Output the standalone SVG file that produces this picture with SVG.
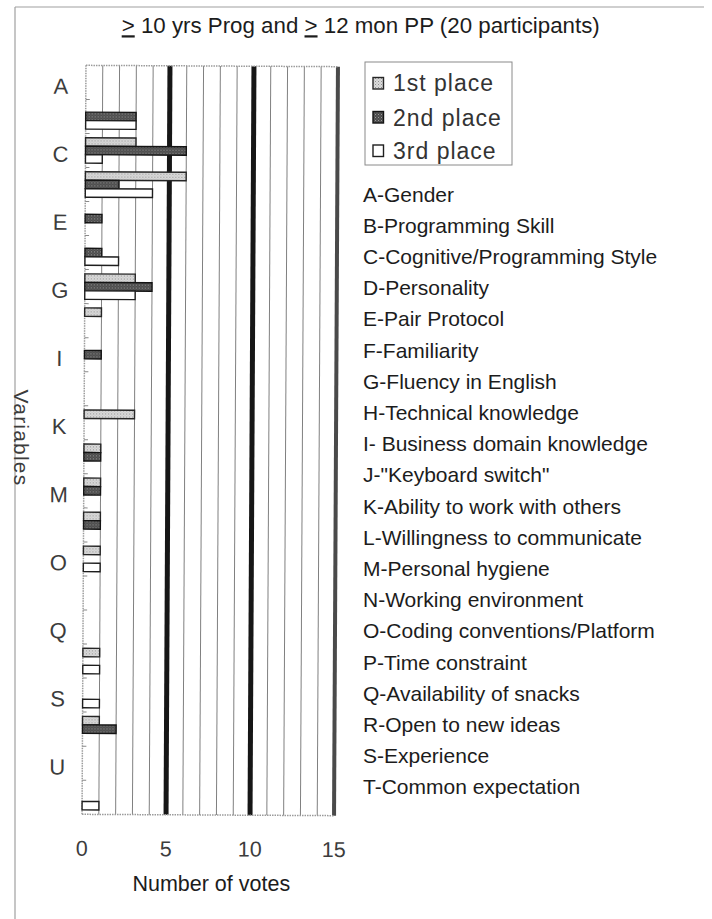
<svg xmlns="http://www.w3.org/2000/svg" width="712" height="919" viewBox="0 0 712 919">
  <style>
    text { font-family: "Liberation Sans", Arial, sans-serif; fill: #1c1c1c; }
    .title { font-size: 22.3px; }
    .axis { font-size: 21.5px; text-anchor: middle; fill: #3c3c3c; }
    .cat { font-size: 22px; text-anchor: middle; fill: #3c3c3c; }
    .var { font-size: 21px; }
    .leg { font-size: 23px; letter-spacing: 1px; fill: #333333; }
    .grid { stroke: #808080; stroke-width: 1; }
    .major { stroke: #161616; stroke-width: 5; }
    .edge { stroke: #4a4a4a; stroke-width: 4; }
    .frame { stroke: #9a9a9a; stroke-width: 1.5; stroke-dasharray: 1.5 1; fill: none; }
    .tick { stroke: #8a8a8a; stroke-width: 1; }
    .p1 { fill: url(#stipLight); stroke: #262626; stroke-width: 1.4; }
    .p2 { fill: url(#stipDark); stroke: #141414; stroke-width: 1.4; }
    .p3 { fill: #ffffff; stroke: #1e1e1e; stroke-width: 1.4; }
  </style>
  <defs>
    <pattern id="stipLight" width="3" height="3" patternUnits="userSpaceOnUse">
      <rect width="3" height="3" fill="#dcdcdc"/>
      <rect x="0" y="0" width="1" height="1" fill="#8e8e8e"/>
      <rect x="1.5" y="1.5" width="1" height="1" fill="#a8a8a8"/>
    </pattern>
    <pattern id="stipDark" width="3" height="3" patternUnits="userSpaceOnUse">
      <rect width="3" height="3" fill="#4a4a4a"/>
      <rect x="0" y="0" width="1" height="1" fill="#9a9a9a"/>
      <rect x="1.5" y="1.5" width="1" height="1" fill="#7a7a7a"/>
    </pattern>
  </defs>

  <rect width="712" height="919" fill="#ffffff"/>

  <!-- outer frame -->
  <g id="frame" stroke="#a0a0a0" stroke-width="1.2">
    <line x1="15" y1="7" x2="704" y2="7"/>
    <line x1="15" y1="7" x2="15" y2="919"/>
  </g>

  <!-- title -->
  <g id="title">
    <text class="title" x="121.7" y="33.3"><tspan text-decoration="underline">&gt;</tspan> 10 yrs Prog and <tspan text-decoration="underline">&gt;</tspan> 12 mon PP (20 participants)</text>
  </g>

  <!-- chart: plot area, bars and axis labels -->
  <g id="chart" transform="rotate(0.3 210 440)">
    <g id="gridlines">
      <line class="grid" x1="100.8" y1="66" x2="100.8" y2="815"/>
      <line class="grid" x1="117.6" y1="66" x2="117.6" y2="815"/>
      <line class="grid" x1="134.4" y1="66" x2="134.4" y2="815"/>
      <line class="grid" x1="151.2" y1="66" x2="151.2" y2="815"/>
      <line class="grid" x1="184.8" y1="66" x2="184.8" y2="815"/>
      <line class="grid" x1="201.6" y1="66" x2="201.6" y2="815"/>
      <line class="grid" x1="218.4" y1="66" x2="218.4" y2="815"/>
      <line class="grid" x1="235.2" y1="66" x2="235.2" y2="815"/>
      <line class="grid" x1="268.8" y1="66" x2="268.8" y2="815"/>
      <line class="grid" x1="285.6" y1="66" x2="285.6" y2="815"/>
      <line class="grid" x1="302.4" y1="66" x2="302.4" y2="815"/>
      <line class="grid" x1="319.2" y1="66" x2="319.2" y2="815"/>
      <line class="major" x1="168" y1="66" x2="168" y2="815"/>
      <line class="major" x1="252" y1="66" x2="252" y2="815"/>
      <line class="edge" x1="336" y1="66" x2="336" y2="815"/>
    </g>

    <!-- plot border: top, left axis, bottom axis -->
    <g id="axes">
      <line class="frame" x1="84" y1="66" x2="336" y2="66"/>
      <line class="frame" x1="84" y1="66" x2="84" y2="815"/>
      <line class="frame" x1="84" y1="815" x2="336" y2="815"/>
      <g class="tick">
        <line x1="84" y1="100.04" x2="88" y2="100.04"/>
        <line x1="84" y1="134.08" x2="88" y2="134.08"/>
        <line x1="84" y1="168.12" x2="88" y2="168.12"/>
        <line x1="84" y1="202.16" x2="88" y2="202.16"/>
        <line x1="84" y1="236.2" x2="88" y2="236.2"/>
        <line x1="84" y1="270.24" x2="88" y2="270.24"/>
        <line x1="84" y1="304.28" x2="88" y2="304.28"/>
        <line x1="84" y1="338.32" x2="88" y2="338.32"/>
        <line x1="84" y1="372.36" x2="88" y2="372.36"/>
        <line x1="84" y1="406.4" x2="88" y2="406.4"/>
        <line x1="84" y1="440.44" x2="88" y2="440.44"/>
        <line x1="84" y1="474.48" x2="88" y2="474.48"/>
        <line x1="84" y1="508.52" x2="88" y2="508.52"/>
        <line x1="84" y1="542.56" x2="88" y2="542.56"/>
        <line x1="84" y1="576.6" x2="88" y2="576.6"/>
        <line x1="84" y1="610.64" x2="88" y2="610.64"/>
        <line x1="84" y1="644.68" x2="88" y2="644.68"/>
        <line x1="84" y1="678.72" x2="88" y2="678.72"/>
        <line x1="84" y1="712.76" x2="88" y2="712.76"/>
        <line x1="84" y1="746.8" x2="88" y2="746.8"/>
        <line x1="84" y1="780.84" x2="88" y2="780.84"/>
      </g>
    </g>

    <!-- vote bars: 16.8 px per vote, 8.5 px per series -->
    <g id="bars">
      <g id="bar-B"><rect class="p2" x="84" y="112.79" width="50.4" height="8.5"/><rect class="p3" x="84" y="121.29" width="50.4" height="8.5"/></g>
      <g id="bar-C"><rect class="p1" x="84" y="138.33" width="50.4" height="8.5"/><rect class="p2" x="84" y="146.83" width="100.8" height="8.5"/><rect class="p3" x="84" y="155.33" width="16.8" height="8.5"/></g>
      <g id="bar-D"><rect class="p1" x="84" y="172.37" width="100.8" height="8.5"/><rect class="p2" x="84" y="180.87" width="33.6" height="8.5"/><rect class="p3" x="84" y="189.37" width="67.2" height="8.5"/></g>
      <g id="bar-E"><rect class="p2" x="84" y="214.91" width="16.8" height="8.5"/></g>
      <g id="bar-F"><rect class="p2" x="84" y="248.95" width="16.8" height="8.5"/><rect class="p3" x="84" y="257.45" width="33.6" height="8.5"/></g>
      <g id="bar-G"><rect class="p1" x="84" y="274.49" width="50.4" height="8.5"/><rect class="p2" x="84" y="282.99" width="67.2" height="8.5"/><rect class="p3" x="84" y="291.49" width="50.4" height="8.5"/></g>
      <g id="bar-H"><rect class="p1" x="84" y="308.53" width="16.8" height="8.5"/></g>
      <g id="bar-I"><rect class="p2" x="84" y="351.07" width="16.8" height="8.5"/></g>
      <g id="bar-K"><rect class="p1" x="84" y="410.65" width="50.4" height="8.5"/></g>
      <g id="bar-L"><rect class="p1" x="84" y="444.69" width="16.8" height="8.5"/><rect class="p2" x="84" y="453.19" width="16.8" height="8.5"/></g>
      <g id="bar-M"><rect class="p1" x="84" y="478.73" width="16.8" height="8.5"/><rect class="p2" x="84" y="487.23" width="16.8" height="8.5"/></g>
      <g id="bar-N"><rect class="p1" x="84" y="512.77" width="16.8" height="8.5"/><rect class="p2" x="84" y="521.27" width="16.8" height="8.5"/></g>
      <g id="bar-O"><rect class="p1" x="84" y="546.81" width="16.8" height="8.5"/><rect class="p3" x="84" y="563.81" width="16.8" height="8.5"/></g>
      <g id="bar-R"><rect class="p1" x="84" y="648.93" width="16.8" height="8.5"/><rect class="p3" x="84" y="665.93" width="16.8" height="8.5"/></g>
      <g id="bar-S"><rect class="p3" x="84" y="699.97" width="16.8" height="8.5"/></g>
      <g id="bar-T"><rect class="p1" x="84" y="717.01" width="16.8" height="8.5"/><rect class="p2" x="84" y="725.51" width="33.6" height="8.5"/></g>
      <g id="bar-V"><rect class="p3" x="84" y="802.09" width="16.8" height="8.5"/></g>
    </g>

    <!-- category letters -->
    <g id="category-labels">
      <text class="cat" x="59" y="94.5">A</text>
      <text class="cat" x="59" y="162.6">C</text>
      <text class="cat" x="59" y="230.7">E</text>
      <text class="cat" x="59" y="298.7">G</text>
      <text class="cat" x="59" y="366.8">I</text>
      <text class="cat" x="59" y="434.9">K</text>
      <text class="cat" x="59" y="503">M</text>
      <text class="cat" x="59" y="571.1">O</text>
      <text class="cat" x="59" y="639.1">Q</text>
      <text class="cat" x="59" y="707.2">S</text>
      <text class="cat" x="59" y="775.3">U</text>
    </g>

    <!-- value axis numbers -->
    <g id="value-labels">
      <text class="axis" x="84" y="856.4">0</text>
      <text class="axis" x="168" y="856.4">5</text>
      <text class="axis" x="252" y="856.4">10</text>
      <text class="axis" x="336" y="856.4">15</text>
    </g>
  </g>

  <!-- axis titles -->
  <g id="axis-titles">
    <text class="axis" style="fill:#1c1c1c" x="211.3" y="891">Number of votes</text>
    <text class="axis" style="font-size:21px;letter-spacing:1.2px" transform="translate(14 438) rotate(90)" x="0" y="0">Variables</text>
  </g>

  <!-- series legend -->
  <g id="legend">
    <rect x="365" y="62" width="147" height="103" fill="#ffffff" stroke="#8a8a8a" stroke-width="1"/>
    <rect class="p1" x="373" y="77.5" width="10.5" height="11.5"/>
    <text class="leg" x="393" y="91">1st place</text>
    <rect class="p2" x="373" y="111.5" width="10.5" height="11.5"/>
    <text class="leg" x="393" y="125.5">2nd place</text>
    <rect class="p3" x="373" y="145" width="10.5" height="11.5"/>
    <text class="leg" x="393" y="158.5">3rd place</text>
  </g>

  <!-- variable key -->
  <g id="variable-key">
    <text class="var" x="363" y="201.5">A-Gender</text>
    <text class="var" x="363" y="232.7">B-Programming Skill</text>
    <text class="var" x="363" y="263.9">C-Cognitive/Programming Style</text>
    <text class="var" x="363" y="295.1">D-Personality</text>
    <text class="var" x="363" y="326.3">E-Pair Protocol</text>
    <text class="var" x="363" y="357.5">F-Familiarity</text>
    <text class="var" x="363" y="388.7">G-Fluency in English</text>
    <text class="var" x="363" y="419.9">H-Technical  knowledge</text>
    <text class="var" x="363" y="451.1">I- Business domain knowledge</text>
    <text class="var" x="363" y="482.3">J-"Keyboard switch"</text>
    <text class="var" x="363" y="513.5">K-Ability to work with others</text>
    <text class="var" x="363" y="544.7">L-Willingness to communicate</text>
    <text class="var" x="363" y="575.9">M-Personal hygiene</text>
    <text class="var" x="363" y="607.1">N-Working environment</text>
    <text class="var" x="363" y="638.3">O-Coding conventions/Platform</text>
    <text class="var" x="363" y="669.5">P-Time constraint</text>
    <text class="var" x="363" y="700.7">Q-Availability of snacks</text>
    <text class="var" x="363" y="731.9">R-Open to new ideas</text>
    <text class="var" x="363" y="763.1">S-Experience</text>
    <text class="var" x="363" y="794.3">T-Common expectation</text>
  </g>
</svg>
